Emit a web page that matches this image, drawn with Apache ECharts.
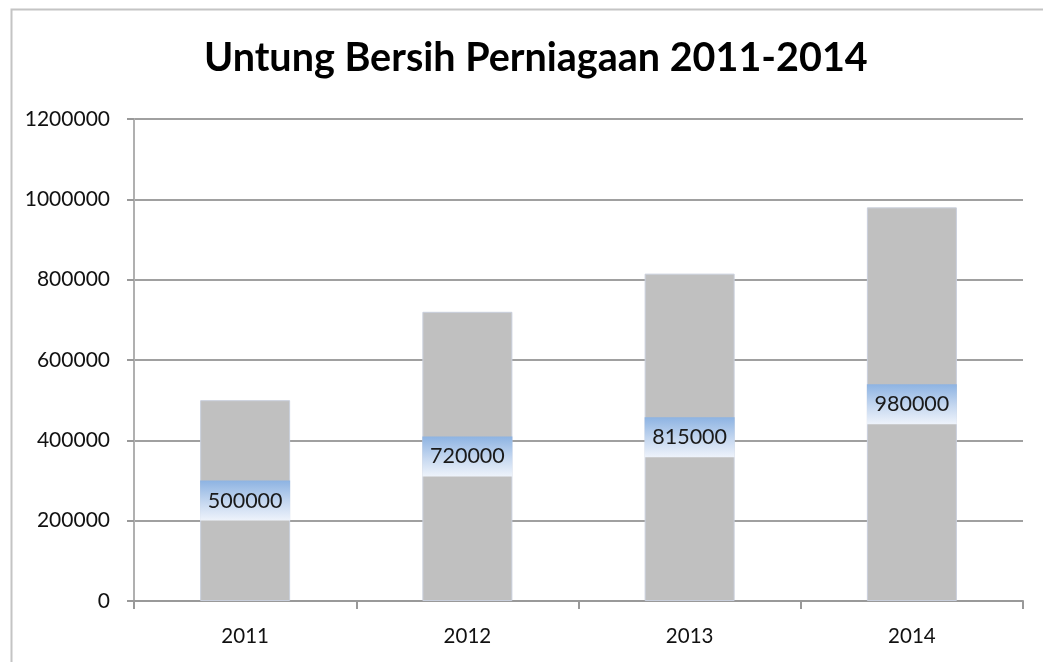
<!DOCTYPE html>
<html>
<head>
<meta charset="utf-8">
<script src="https://cdn.jsdelivr.net/npm/echarts@6/dist/echarts.min.js"></script>
<style>html,body{margin:0;padding:0;background:#fff;}#chart{width:1043px;height:662px;}</style>
</head>
<body>
<div id="chart"></div>
<script>
const titleText = 'Untung Bersih Perniagaan 2011-2014';
const categories = ['2011', '2012', '2013', '2014'];
const profits = [500000, 720000, 815000, 980000];
const yTicks = { min: 0, max: 1200000, interval: 200000 };

const FONT = "Lato, 'Open Sans', sans-serif";
const chart = echarts.init(document.getElementById('chart'));
chart.setOption({
  backgroundColor: '#ffffff',
  animation: false,
  graphic: [{
    type: 'rect', left: 9, top: 7, silent: true,
    shape: { width: 1100, height: 720 },
    style: { fill: 'none', stroke: '#c4c4c4', lineWidth: 2 }
  }],
  title: {
    text: titleText, left: 199, top: 33,
    textStyle: { fontFamily: FONT, fontSize: 39.5, fontWeight: 'bold', color: '#000' }
  },
  grid: { left: 134, right: 20, top: 119, bottom: 61, containLabel: false, outerBoundsMode: 'none' },
  xAxis: {
    type: 'category', data: categories, boundaryGap: true,
    axisLine: { show: true, lineStyle: { color: '#999999', width: 2 } },
    axisTick: { show: true, length: 8, alignWithLabel: false, lineStyle: { color: '#999999', width: 2 } },
    axisLabel: { margin: 25, fontFamily: FONT, fontSize: 20.5, color: '#111' }
  },
  yAxis: {
    type: 'value', min: yTicks.min, max: yTicks.max, interval: yTicks.interval,
    axisLine: { show: true, lineStyle: { color: '#b0b0b0', width: 2 } },
    axisTick: { show: true, length: 7, lineStyle: { color: '#999999', width: 2 } },
    splitLine: { show: true, lineStyle: { color: '#a0a0a0', width: 2 } },
    axisLabel: { margin: 24, fontFamily: FONT, fontSize: 21, color: '#111',
      formatter: function (v) { return String(v); } }
  },
  series: [{
    type: 'bar', data: profits, barWidth: 90,
    itemStyle: { color: '#c0c0c0', borderColor: '#c9cfdc', borderWidth: 1 },
    label: {
      show: true, position: 'inside',
      fontFamily: FONT, fontSize: 21.5, color: '#1a1a1a',
      width: 90, height: 40, lineHeight: 40, align: 'center', verticalAlign: 'middle',
      padding: 0,
      formatter: function (p) { return String(p.value); },
      backgroundColor: new echarts.graphic.LinearGradient(0, 0, 0, 1, [
        { offset: 0, color: '#8db3e2' },
        { offset: 0.55, color: '#c6d8f0' },
        { offset: 1, color: '#eef3fb' }
      ])
    }
  }]
});
</script>
</body>
</html>
